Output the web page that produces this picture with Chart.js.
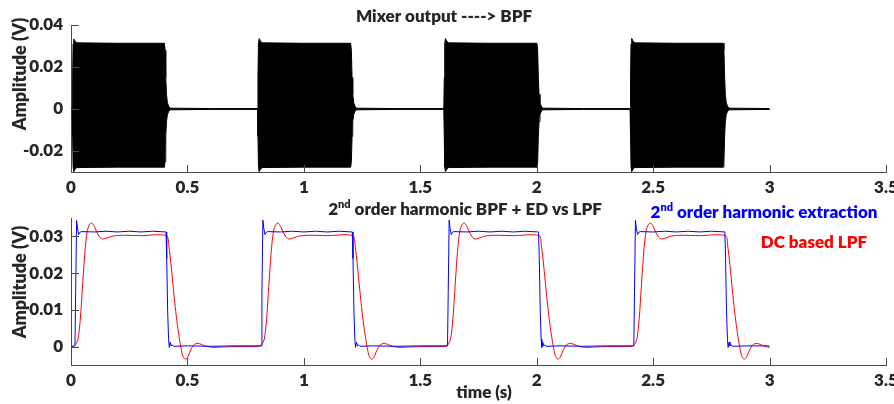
<!DOCTYPE html>
<html>
<head>
<meta charset="utf-8">
<script src="https://cdn.jsdelivr.net/npm/chart.js@4.4.1/dist/chart.umd.min.js"></script>
<style>
  html, body { margin: 0; padding: 0; background: #ffffff; }
  #wrap { position: relative; width: 894px; height: 404px; overflow: hidden; }
  #c1 { position: absolute; left: 0; top: 0; }
  #c2 { position: absolute; left: 0; top: 190px; }
</style>
</head>
<body>
<div id="wrap">
  <canvas id="c1" width="894" height="200"></canvas>
  <canvas id="c2" width="894" height="214"></canvas>
</div>
<script>
// ---------------- DATA ----------------
// x ticks (shared)
const xTicks = [0, 0.5, 1, 1.5, 2, 2.5, 3, 3.5];
const xTickLabels = ['0', '0.5', '1', '1.5', '2', '2.5', '3', '3.5'];
// top panel y ticks
const yTicksTop = [-0.02, 0, 0.02, 0.04];
const yTickLabelsTop = ['-0.02', '0', '0.02', '0.04'];
// bottom panel y ticks
const yTicksBot = [0, 0.01, 0.02, 0.03];
const yTickLabelsBot = ['0', '0.01', '0.02', '0.03'];

// Top panel: mixer output (dense carrier) drawn as its envelope (upper / lower)
const mixTime = [
  0, 0.005, 0.007, 0.009, 0.012, 0.017, 0.024, 0.2, 0.401, 0.404, 0.407, 0.410, 0.414, 0.419, 0.425, 0.6,
  0.801, 0.803, 0.805, 0.808, 0.813, 0.82, 1.0, 1.201, 1.204, 1.207, 1.210, 1.214, 1.219, 1.225, 1.4,
  1.601, 1.603, 1.605, 1.608, 1.613, 1.62, 1.8, 2.001, 2.004, 2.007, 2.010, 2.014, 2.019, 2.025, 2.2,
  2.401, 2.403, 2.405, 2.408, 2.413, 2.42, 2.6, 2.801, 2.804, 2.807, 2.810, 2.814, 2.819, 2.825, 3.0
];
const mixUpper = [
  0.0002, 0.0002, 0.015, 0.031, 0.0333, 0.0324, 0.0315, 0.0313, 0.0313, 0.028, 0.015, 0.007, 0.003, 0.0015, 0.0004, 0.0002,
  0.0002, 0.015, 0.031, 0.0335, 0.0325, 0.0315, 0.0313, 0.0313, 0.028, 0.015, 0.007, 0.003, 0.0015, 0.0004, 0.0002,
  0.0002, 0.015, 0.031, 0.0335, 0.0325, 0.0315, 0.0313, 0.0313, 0.028, 0.015, 0.007, 0.003, 0.0015, 0.0004, 0.0002,
  0.0002, 0.015, 0.031, 0.0336, 0.0325, 0.0315, 0.0313, 0.0313, 0.028, 0.015, 0.007, 0.003, 0.0015, 0.0004, 0.0002
];
const mixLower = [
  -0.0002, -0.0002, -0.013, -0.0275, -0.0297, -0.0288, -0.0279, -0.0277, -0.0277, -0.025, -0.013, -0.006, -0.0027, -0.0013, -0.0004, -0.0002,
  -0.0002, -0.013, -0.0275, -0.0298, -0.0289, -0.0279, -0.0277, -0.0277, -0.025, -0.013, -0.006, -0.0027, -0.0013, -0.0004, -0.0002,
  -0.0002, -0.013, -0.0275, -0.0298, -0.0289, -0.0279, -0.0277, -0.0277, -0.025, -0.013, -0.006, -0.0027, -0.0013, -0.0004, -0.0002,
  -0.0002, -0.013, -0.0275, -0.0297, -0.0288, -0.0279, -0.0277, -0.0277, -0.025, -0.013, -0.006, -0.0027, -0.0013, -0.0004, -0.0002
];

// Bottom panel: 2nd order harmonic extraction (blue)
const blueTime = [
  0, 0.017, 0.020, 0.024, 0.028, 0.033, 0.038, 0.045, 0.1, 0.15, 0.2, 0.25, 0.3, 0.35, 0.408, 0.411, 0.415, 0.419, 0.422, 0.426, 0.430, 0.434, 0.44, 0.5, 0.6, 0.7,
  0.817, 0.820, 0.824, 0.828, 0.833, 0.838, 0.845, 0.9, 0.95, 1.0, 1.05, 1.1, 1.15, 1.208, 1.211, 1.215, 1.219, 1.222, 1.226, 1.230, 1.234, 1.24, 1.3, 1.4, 1.5,
  1.617, 1.620, 1.624, 1.628, 1.633, 1.638, 1.645, 1.7, 1.75, 1.8, 1.85, 1.9, 1.95, 2.008, 2.011, 2.015, 2.019, 2.022, 2.026, 2.030, 2.034, 2.04, 2.1, 2.2, 2.3,
  2.417, 2.420, 2.424, 2.428, 2.433, 2.438, 2.445, 2.5, 2.55, 2.6, 2.65, 2.7, 2.75, 2.808, 2.811, 2.815, 2.819, 2.822, 2.826, 2.830, 2.834, 2.84, 2.9, 3.0
];
const blueVal = [
  0, 0.0002, 0.015, 0.0343, 0.0322, 0.0305, 0.0311, 0.0313, 0.0312, 0.0314, 0.0312, 0.0314, 0.0312, 0.0314, 0.0312, 0.024, 0.010, 0.002, -0.0002, 0.0012, 0.0002, 0.0005, 0.0001, 0.0002, 0.0001, 0.0002,
  0.0002, 0.015, 0.0344, 0.0322, 0.0305, 0.0311, 0.0313, 0.0312, 0.0314, 0.0312, 0.0314, 0.0312, 0.0314, 0.0312, 0.024, 0.010, 0.002, -0.0002, 0.0012, 0.0002, 0.0005, 0.0001, 0.0002, 0.0001, 0.0002,
  0.0002, 0.015, 0.0344, 0.0322, 0.0305, 0.0311, 0.0313, 0.0312, 0.0314, 0.0312, 0.0314, 0.0312, 0.0314, 0.0312, 0.024, 0.010, 0.002, -0.0002, 0.0012, 0.0002, 0.0005, 0.0001, 0.0002, 0.0001, 0.0002,
  0.0002, 0.015, 0.0344, 0.0322, 0.0305, 0.0311, 0.0313, 0.0312, 0.0314, 0.0312, 0.0314, 0.0312, 0.0314, 0.0312, 0.024, 0.010, 0.002, -0.0002, 0.0012, 0.0002, 0.0005, 0.0001, 0.0002, 0.0002, 0.0001
];

// Bottom panel: DC based LPF (red)
const redTime = [
  0, 0.01, 0.02, 0.03, 0.04, 0.05, 0.06, 0.07, 0.08, 0.09, 0.10, 0.11, 0.12, 0.13, 0.14, 0.155, 0.18, 0.22, 0.3, 0.41,
  0.42, 0.43, 0.44, 0.45, 0.46, 0.47, 0.48, 0.49, 0.50, 0.51, 0.52, 0.53, 0.545, 0.56, 0.58, 0.61, 0.65, 0.7,
  0.81, 0.82, 0.83, 0.84, 0.85, 0.86, 0.87, 0.88, 0.89, 0.90, 0.91, 0.92, 0.93, 0.94, 0.955, 0.98, 1.02, 1.1, 1.21,
  1.22, 1.23, 1.24, 1.25, 1.26, 1.27, 1.28, 1.29, 1.30, 1.31, 1.32, 1.33, 1.345, 1.36, 1.38, 1.41, 1.45, 1.5,
  1.61, 1.62, 1.63, 1.64, 1.65, 1.66, 1.67, 1.68, 1.69, 1.70, 1.71, 1.72, 1.73, 1.74, 1.755, 1.78, 1.82, 1.9, 2.01,
  2.02, 2.03, 2.04, 2.05, 2.06, 2.07, 2.08, 2.09, 2.10, 2.11, 2.12, 2.13, 2.145, 2.16, 2.18, 2.21, 2.25, 2.3,
  2.41, 2.42, 2.43, 2.44, 2.45, 2.46, 2.47, 2.48, 2.49, 2.50, 2.51, 2.52, 2.53, 2.54, 2.555, 2.58, 2.62, 2.7, 2.81,
  2.82, 2.83, 2.84, 2.85, 2.86, 2.87, 2.88, 2.89, 2.90, 2.91, 2.92, 2.93, 2.945, 2.96, 2.98, 3.0
];
const redVal = [
  0, 0.0001, 0.0006, 0.002, 0.0075, 0.017, 0.026, 0.0315, 0.0333, 0.0336, 0.0327, 0.0313, 0.0301, 0.0294, 0.0293, 0.0296, 0.0301, 0.0303, 0.0302, 0.0302,
  0.0275, 0.022, 0.0155, 0.0095, 0.0045, 0.0005, -0.0025, -0.0034, -0.003, -0.0015, -0.0002, 0.0006, 0.0009, 0.0006, 0.0001, -0.0002, -0.0001, 0,
  0.0001, 0.0006, 0.002, 0.0075, 0.017, 0.026, 0.0315, 0.0333, 0.0336, 0.0327, 0.0313, 0.0301, 0.0294, 0.0293, 0.0296, 0.0301, 0.0303, 0.0302, 0.0302,
  0.0275, 0.022, 0.0155, 0.0095, 0.0045, 0.0005, -0.0025, -0.0034, -0.003, -0.0015, -0.0002, 0.0006, 0.0009, 0.0006, 0.0001, -0.0002, -0.0001, 0,
  0.0001, 0.0006, 0.002, 0.0075, 0.017, 0.026, 0.0315, 0.0333, 0.0336, 0.0327, 0.0313, 0.0301, 0.0294, 0.0293, 0.0296, 0.0301, 0.0303, 0.0302, 0.0302,
  0.0275, 0.022, 0.0155, 0.0095, 0.0045, 0.0005, -0.0025, -0.0034, -0.003, -0.0015, -0.0002, 0.0006, 0.0009, 0.0006, 0.0001, -0.0002, -0.0001, 0,
  0.0001, 0.0006, 0.002, 0.0075, 0.017, 0.026, 0.0315, 0.0333, 0.0336, 0.0327, 0.0313, 0.0301, 0.0294, 0.0293, 0.0296, 0.0301, 0.0303, 0.0302, 0.0302,
  0.0275, 0.022, 0.0155, 0.0095, 0.0045, 0.0005, -0.0025, -0.0034, -0.003, -0.0015, -0.0002, 0.0006, 0.0009, 0.0006, 0.0001, -0.0002
];

// ---------------- RENDERING ----------------
const FONT = 'Lato, "Open Sans", "DejaVu Sans", sans-serif';
const WEIGHT = '800';
const AXIS_COLOR = '#4a4a4a';
const TEXT_COLOR = '#262626';

function pts(xs, ys) { return xs.map((x, i) => ({ x: x, y: ys[i] })); }

// inward tick marks + text annotations
const decorPlugin = {
  id: 'decor',
  afterDraw(chart, args, opts) {
    const ctx = chart.ctx;
    const xs = chart.scales.x, ys = chart.scales.y;
    const a = chart.chartArea;
    ctx.save();
    ctx.strokeStyle = AXIS_COLOR;
    ctx.lineWidth = 1;
    ctx.beginPath();
    xs.ticks.forEach(t => {
      const px = Math.round(xs.getPixelForValue(t.value)) + 0.5;
      ctx.moveTo(px, a.bottom);
      ctx.lineTo(px, a.bottom - 7);
    });
    ys.ticks.forEach(t => {
      const py = Math.round(ys.getPixelForValue(t.value)) + 0.5;
      ctx.moveTo(a.left, py);
      ctx.lineTo(a.left + 8, py);
    });
    ctx.stroke();

    (opts.texts || []).forEach(item => {
      ctx.save();
      ctx.fillStyle = item.color || TEXT_COLOR;
      ctx.textBaseline = 'alphabetic';
      if (item.rotate) {
        ctx.translate(item.x, item.y);
        ctx.rotate(-Math.PI / 2);
        ctx.font = WEIGHT + ' ' + item.size + 'px ' + FONT;
        ctx.textAlign = 'center';
        ctx.textBaseline = 'middle';
        ctx.fillText(item.parts[0][0], 0, 0);
      } else {
        let total = 0;
        item.parts.forEach(p => {
          ctx.font = WEIGHT + ' ' + p[1] + 'px ' + FONT;
          total += ctx.measureText(p[0]).width;
        });
        let x = item.x - total / 2;
        ctx.textAlign = 'left';
        item.parts.forEach(p => {
          ctx.font = WEIGHT + ' ' + p[1] + 'px ' + FONT;
          ctx.fillText(p[0], x, item.y + p[2]);
          x += ctx.measureText(p[0]).width;
        });
      }
      ctx.restore();
    });
    ctx.restore();
  }
};

function makeScales(yMin, yMax, yTicks, yLabels, xAxisHeight) {
  return {
    x: {
      type: 'linear', min: 0, max: 3.5,
      afterBuildTicks: s => { s.ticks = xTicks.map(v => ({ value: v })); },
      afterFit: s => { s.height = xAxisHeight; s.paddingLeft = 0; s.paddingRight = 0; },
      grid: { display: true, drawOnChartArea: false, drawTicks: false },
      border: { display: true, color: AXIS_COLOR, width: 1 },
      ticks: {
        padding: 5, color: TEXT_COLOR, maxRotation: 0, autoSkip: false,
        font: { family: FONT, size: 17, weight: WEIGHT },
        callback: (v, i) => xTickLabels[i]
      }
    },
    y: {
      type: 'linear', min: yMin, max: yMax,
      afterBuildTicks: s => { s.ticks = yTicks.map(v => ({ value: v })); },
      afterFit: s => { s.width = 71; s.paddingTop = 0; s.paddingBottom = 0; },
      grid: { display: true, drawOnChartArea: false, drawTicks: false },
      border: { display: true, color: AXIS_COLOR, width: 1 },
      ticks: {
        padding: 8, color: TEXT_COLOR, autoSkip: false,
        font: { family: FONT, size: 17, weight: WEIGHT },
        callback: (v, i) => yLabels[i]
      }
    }
  };
}

Chart.defaults.font.family = FONT;

// Top chart
new Chart(document.getElementById('c1'), {
  type: 'line',
  data: {
    datasets: [
      { data: pts(mixTime, mixUpper), borderColor: '#000000', backgroundColor: '#000000',
        borderWidth: 1, pointRadius: 0, fill: '+1', tension: 0 },
      { data: pts(mixTime, mixLower), borderColor: '#000000', backgroundColor: '#000000',
        borderWidth: 1, pointRadius: 0, fill: false, tension: 0 }
    ]
  },
  options: {
    responsive: false, animation: false, devicePixelRatio: 1,
    layout: { padding: { left: 0, top: 25, right: 8, bottom: 0 } },
    plugins: {
      legend: { display: false }, tooltip: { enabled: false },
      decor: {
        texts: [
          { parts: [['Mixer output ----> BPF', 17, 0]], x: 444, y: 22 },
          { rotate: true, parts: [['Amplitude (V)', 18]], size: 18, x: 20, y: 74 }
        ]
      }
    },
    scales: makeScales(-0.03, 0.04, yTicksTop, yTickLabelsTop, 28)
  },
  plugins: [decorPlugin]
});

// Bottom chart
new Chart(document.getElementById('c2'), {
  type: 'line',
  data: {
    datasets: [
      { data: pts(blueTime, blueVal), borderColor: '#0000ff', borderWidth: 1, pointRadius: 0, fill: false, tension: 0 },
      { data: pts(redTime, redVal), borderColor: '#ff0000', borderWidth: 1, pointRadius: 0, fill: false, tension: 0.3 }
    ]
  },
  options: {
    responsive: false, animation: false, devicePixelRatio: 1,
    layout: { padding: { left: 0, top: 28, right: 8, bottom: 0 } },
    plugins: {
      legend: { display: false }, tooltip: { enabled: false },
      decor: {
        texts: [
          { parts: [['2', 17, 0], ['nd', 11, -7], [' order harmonic BPF + ED vs LPF', 17, 0]], x: 465, y: 25 },
          { parts: [['2', 17, 0], ['nd', 11, -7], [' order harmonic extraction', 17, 0]], x: 764, y: 28, color: '#0000ff' },
          { parts: [['DC based LPF', 17, 0]], x: 814, y: 58, color: '#ff0000' },
          { parts: [['time (s)', 17, 0]], x: 484, y: 208 },
          { rotate: true, parts: [['Amplitude (V)', 18]], size: 18, x: 20, y: 92 }
        ]
      }
    },
    scales: makeScales(-0.005, 0.035, yTicksBot, yTickLabelsBot, 39)
  },
  plugins: [decorPlugin]
});
</script>
</body>
</html>
